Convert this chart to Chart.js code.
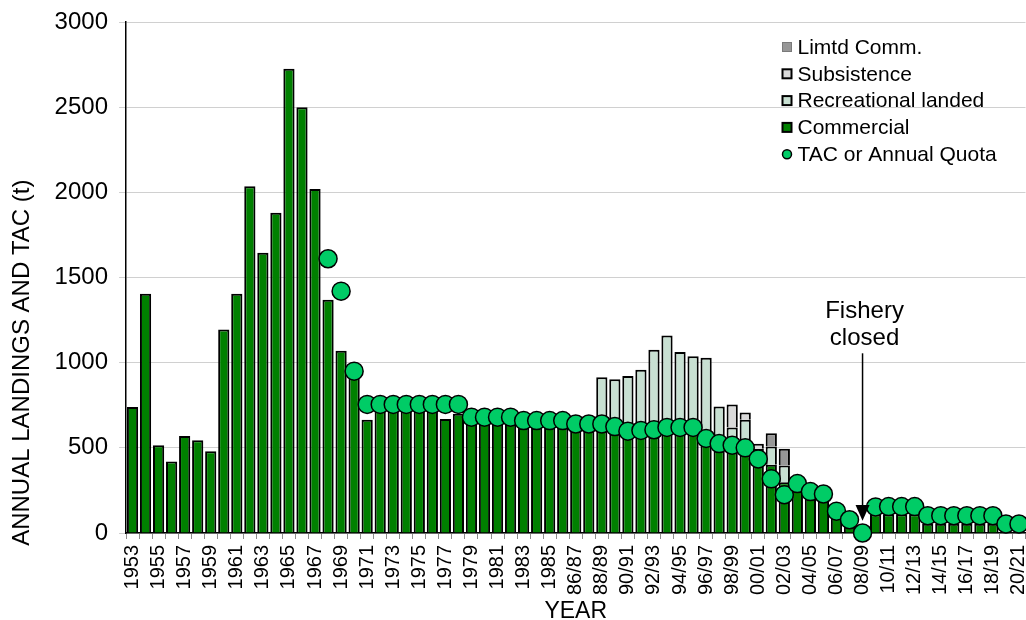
<!DOCTYPE html>
<html>
<head>
<meta charset="utf-8">
<title>Annual landings and TAC</title>
<script src="https://cdn.jsdelivr.net/npm/chart.js@4.4.1/dist/chart.umd.min.js"></script>
<style>
  html, body { margin: 0; padding: 0; overflow: hidden; background: #fff; }
  #wrap { position: relative; width: 1036px; height: 630px; }
</style>
</head>
<body>
<div id="wrap"><canvas id="landingsChart"></canvas></div>
<script>
// fishing years: calendar years to 1986, then split seasons
var seasons = [
  "1953", "1954", "1955", "1956", "1957", "1958", "1959", "1960", "1961", "1962",
  "1963", "1964", "1965", "1966", "1967", "1968", "1969", "1970", "1971", "1972",
  "1973", "1974", "1975", "1976", "1977", "1978", "1979", "1980", "1981", "1982",
  "1983", "1984", "1985", "1986", "86/87", "87/88", "88/89", "89/90", "90/91", "91/92",
  "92/93", "93/94", "94/95", "95/96", "96/97", "97/98", "98/99", "99/00", "00/01", "01/02",
  "02/03", "03/04", "04/05", "05/06", "06/07", "07/08", "08/09", "09/10", "10/11", "11/12",
  "12/13", "13/14", "14/15", "15/16", "16/17", "17/18", "18/19", "19/20", "20/21"
];

// commercial landings (t), one per season
var commercial = [
  740, 1405, 515, 420, 570, 545, 480, 1195, 1405, 2035,
  1645, 1880, 2725, 2500, 2020, 1370, 1070, 910, 665, 720,
  725, 720, 725, 720, 670, 700, 650, 655, 650, 645,
  640, 635, 630, 635, 615, 610, 600, 590, 560, 575,
  590, 600, 600, 590, 520, 490, 480, 470, 420, 400,
  298, 265, 225, 215, 90, 40, 0, 110, 110, 110,
  110, 55, 55, 55, 55, 55, 55, 35, 35
];

// recreational landings (t), 88/89 to 02/03
var recSeasons = ["88/89", "89/90", "90/91", "91/92", "92/93", "93/94", "94/95", "95/96",
                  "96/97", "97/98", "98/99", "99/00", "00/01", "01/02", "02/03"];
var recreational = [315, 312, 361, 384, 486, 560, 462, 447, 509, 253, 140, 195, 74, 108, 99];

// subsistence landings (t)
var subsSeasons = ["98/99", "99/00", "00/01"];
var subsistence = [135, 43, 30];

// limited commercial landings (t)
var limSeasons = ["01/02", "02/03"];
var limitedComm = [78, 97];

// TAC or annual quota (t); none set before 1968
var tacQuota = [
  null, null, null, null, null, null, null, null, null, null,
  null, null, null, null, null, 1610, 1420, 950, 755, 755,
  755, 755, 755, 755, 755, 755, 680, 680, 680, 680,
  660, 660, 660, 660, 640, 640, 640, 625, 598, 602,
  606, 620, 620, 620, 555, 525, 515, 500, 435, 318,
  225, 290, 243, 229, 128, 78, 0, 153, 155, 155,
  155, 102, 102, 102, 102, 102, 102, 53, 53
];

var yTicks = { min: 0, max: 3000, step: 500 };

var colCommercial = "#008000";
var colRecreational = "#c8e0d2";
var colSubsistence = "#d9d9d9";
var colLimited = "#979797";
var colTac = "#00cc66";

// spread a short season list over the full category axis
function alignTo(keys, values) {
  return seasons.map(function (s) {
    var i = keys.indexOf(s);
    return i < 0 ? null : values[i];
  });
}

Chart.defaults.font.family = '"Liberation Sans", Arial, Helvetica, sans-serif';
Chart.defaults.color = "#000";

// legend drawn inside the plot, top right, plus the y title and the closure note
var overlayPlugin = {
  id: "overlay",
  afterDatasetsDraw: function (chart) {
    var ctx = chart.ctx;
    var x = chart.scales.x, y = chart.scales.y;

    // "Fishery closed" arrow
    var ax = x.getPixelForValue(seasons.indexOf("08/09"));
    ctx.save();
    ctx.fillStyle = "#000";
    ctx.strokeStyle = "#000";
    ctx.font = '24px "Liberation Sans", Arial, sans-serif';
    ctx.textAlign = "center";
    ctx.textBaseline = "middle";
    ctx.fillText("Fishery", ax + 2, y.getPixelForValue(1300));
    ctx.fillText("closed", ax + 2, y.getPixelForValue(1140));
    ctx.lineWidth = 1.5;
    ctx.beginPath();
    ctx.moveTo(ax, y.getPixelForValue(1055));
    ctx.lineTo(ax, y.getPixelForValue(160));
    ctx.stroke();
    ctx.beginPath();
    ctx.moveTo(ax - 7, y.getPixelForValue(165));
    ctx.lineTo(ax + 7, y.getPixelForValue(165));
    ctx.lineTo(ax, y.getPixelForValue(72));
    ctx.closePath();
    ctx.fill();
    ctx.restore();
  },
  afterDraw: function (chart) {
    var ctx = chart.ctx;
    var area = chart.chartArea;
    var ds = chart.data.datasets;
    var order = [3, 2, 1, 0, 4];
    var lx = area.right - 243;
    var ly = area.top + 25;
    var step = 26.8;

    ctx.save();
    ctx.font = '21px "Liberation Sans", Arial, sans-serif';
    ctx.textBaseline = "middle";
    ctx.textAlign = "left";
    order.forEach(function (di, k) {
      var d = ds[di];
      var cy = ly + k * step;
      if (d.type === "line") {
        ctx.beginPath();
        ctx.arc(lx + 4.5, cy, 4.5, 0, Math.PI * 2);
        ctx.fillStyle = d.pointBackgroundColor;
        ctx.fill();
        ctx.lineWidth = 1.5;
        ctx.strokeStyle = "#000";
        ctx.stroke();
      } else {
        ctx.fillStyle = d.backgroundColor;
        ctx.fillRect(lx, cy - 4.5, 9, 9);
        ctx.lineWidth = di === 3 ? 1 : 2;
        ctx.strokeStyle = di === 3 ? "#7a7a7a" : "#000";
        ctx.strokeRect(lx, cy - 4.5, 9, 9);
      }
      ctx.fillStyle = "#000";
      ctx.fillText(d.label, lx + 15, cy + 1);
    });

    // y axis title, sits a little below the middle of the axis
    ctx.translate(22, chart.scales.y.getPixelForValue(1000));
    ctx.rotate(-Math.PI / 2);
    ctx.font = '24px "Liberation Sans", Arial, sans-serif';
    ctx.textAlign = "center";
    ctx.fillText("ANNUAL LANDINGS AND TAC (t)", 0, 0);
    ctx.restore();
  }
};

var barCommon = {
  type: "bar",
  borderColor: "#000",
  borderWidth: 2,
  barPercentage: 0.86,
  categoryPercentage: 1.0,
  order: 1
};

var data = {
  labels: seasons,
  datasets: [
    Object.assign({ label: "Commercial", data: commercial, backgroundColor: colCommercial }, barCommon),
    Object.assign({ label: "Recreational landed", data: alignTo(recSeasons, recreational), backgroundColor: colRecreational }, barCommon),
    Object.assign({ label: "Subsistence", data: alignTo(subsSeasons, subsistence), backgroundColor: colSubsistence }, barCommon),
    Object.assign({ label: "Limtd Comm.", data: alignTo(limSeasons, limitedComm), backgroundColor: colLimited }, barCommon),
    {
      type: "line",
      label: "TAC or Annual Quota",
      data: tacQuota,
      showLine: false,
      pointRadius: 9,
      pointBackgroundColor: colTac,
      pointBorderColor: "#000",
      pointBorderWidth: 1.5,
      clip: false,
      order: 0
    }
  ]
};

var options = {
  responsive: true,
  maintainAspectRatio: false,
  animation: false,
  layout: { padding: { left: 0, top: 22, right: 3, bottom: 0 } },
  scales: {
    x: {
      stacked: true,
      offset: true,
      grid: { drawOnChartArea: false, drawTicks: true, tickLength: 6, color: "#8c8c8c", offset: true },
      border: { color: "#000", width: 1.5 },
      ticks: {
        autoSkip: false,
        maxRotation: 90,
        minRotation: 90,
        padding: 6,
        font: { size: 20 },
        callback: function (v, i) { return i % 2 === 0 ? seasons[i] : ""; }
      },
      title: { display: true, text: "YEAR", font: { size: 23 }, padding: { top: 0, bottom: 5 } },
      afterFit: function (scale) {
        scale.height = 97;
        scale.paddingLeft = 0;
        scale.paddingRight = 0;
      }
    },
    y: {
      stacked: true,
      min: yTicks.min,
      max: yTicks.max,
      ticks: {
        stepSize: yTicks.step,
        padding: 11,
        font: { size: 24 },
        callback: function (v) { return String(v); }
      },
      grid: { color: "#d0d0d0", tickLength: 7 },
      border: { color: "#000", width: 1.5 },
      afterFit: function (scale) {
        scale.width = 126;
        scale.paddingTop = 0;
        scale.paddingBottom = 0;
      }
    }
  },
  plugins: {
    legend: { display: false },
    tooltip: { enabled: false }
  }
};

var ctx = document.getElementById("landingsChart").getContext("2d");
var landingsChart = new Chart(ctx, {
  data: data,
  options: options,
  plugins: [overlayPlugin]
});
</script>
</body>
</html>
